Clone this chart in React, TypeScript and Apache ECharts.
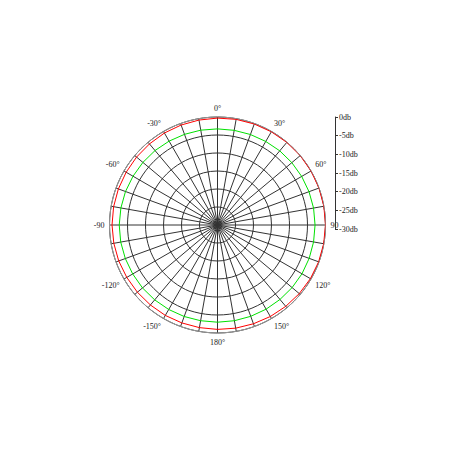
import * as echarts from 'echarts';
import { useEffect, useRef } from 'react';

// angle of each sample, degrees clockwise from top
const angles = [
  0, 10, 20, 30, 40, 50, 60, 70, 80, 90, 100, 110, 120, 130, 140, 150, 160, 170, 180,
  190, 200, 210, 220, 230, 240, 250, 260, 270, 280, 290, 300, 310, 320, 330, 340, 350, 360,
];

// level in db
const redLevels = [
  -0.3, -0.2, -0.15, -0.1, -0.05, 0, 0, 0, 0, 0, -0.05, -0.1, -0.2, -0.35, -0.5, -0.65, -0.8, -0.9, -1.0,
  -1.05, -1.05, -1.0, -1.0, -0.95, -0.9, -0.8, -0.75, -0.7, -0.7, -0.7, -0.7, -0.65, -0.6, -0.5, -0.45, -0.4, -0.3,
];

// level in db
const greenLevels = [
  -3.3, -3.3, -3.25, -3.2, -3.1, -3.05, -3.0, -2.95, -2.9, -2.9, -2.9, -2.9, -2.9, -2.95, -3.0, -3.0, -3.0, -3.0, -3.0,
  -3.0, -2.95, -2.9, -2.85, -2.8, -2.8, -2.75, -2.7, -2.7, -2.75, -2.8, -2.9, -2.95, -3.0, -3.1, -3.2, -3.25, -3.3,
];

// labels every 30 degrees, starting at the top
const angleLabels = ['0°', '30°', '60°', '90', '120°', '150°', '180°', '-150°', '-120°', '-90', '-60°', '-30°'];

const dbMin = -30;
const dbMax = 0;
const dbStep = 5;

const labelFont = 'serif';

export default function App() {
  const chartRef = useRef<HTMLDivElement>(null);

  useEffect(() => {
    if (!chartRef.current) return;
    const chart = echarts.init(chartRef.current, undefined, { renderer: 'svg' });

    const option: echarts.EChartsOption = {
      animation: false,
      backgroundColor: '#fff',
      polar: {
        center: [217.5, 225],
        radius: 108,
      },
      angleAxis: {
        type: 'value',
        min: 0,
        max: 360,
        interval: 10,
        startAngle: 90,
        clockwise: true,
        axisLine: { lineStyle: { color: '#999', width: 1 } },
        axisTick: { show: false },
        axisLabel: {
          margin: 5,
          fontSize: 8,
          color: '#222',
          fontFamily: labelFont,
          formatter: (v: number) => (v % 30 === 0 && v < 360 ? angleLabels[v / 30] : ''),
        },
        splitLine: { show: true, lineStyle: { color: '#333', width: 1 } },
      },
      radiusAxis: {
        type: 'value',
        min: dbMin,
        max: dbMax,
        interval: dbStep,
        axisLine: { show: false },
        axisTick: { show: false },
        axisLabel: { show: false },
        splitLine: { show: true, lineStyle: { color: '#333', width: 1 } },
      },
      grid: {
        left: 335,
        top: 117,
        width: 1,
        height: 112,
      },
      xAxis: {
        type: 'value',
        show: false,
      },
      yAxis: {
        type: 'value',
        position: 'right',
        min: dbMin,
        max: dbMax,
        interval: dbStep,
        axisLine: { show: true, lineStyle: { color: '#333', width: 1 } },
        axisTick: { show: true, length: 3, lineStyle: { color: '#333' } },
        splitLine: { show: false },
        axisLabel: {
          margin: 3,
          fontSize: 8,
          color: '#222',
          fontFamily: labelFont,
          formatter: (v: number) => `${v}db`,
        },
      },
      series: [
        {
          name: 'red',
          type: 'line',
          coordinateSystem: 'polar',
          data: angles.map((a, i) => [redLevels[i], a]),
          showSymbol: false,
          lineStyle: { color: '#ff0000', width: 1 },
          itemStyle: { color: '#ff0000' },
          z: 3,
        },
        {
          name: 'green',
          type: 'line',
          coordinateSystem: 'polar',
          data: angles.map((a, i) => [greenLevels[i], a]),
          showSymbol: false,
          lineStyle: { color: '#00e000', width: 1 },
          itemStyle: { color: '#00e000' },
          z: 3,
        },
      ],
    };

    chart.setOption(option);
    return () => {
      chart.dispose();
    };
  }, []);

  return (
    <div
      ref={chartRef}
      style={{ position: 'absolute', left: 0, top: 0, width: 452, height: 452 }}
    />
  );
}
